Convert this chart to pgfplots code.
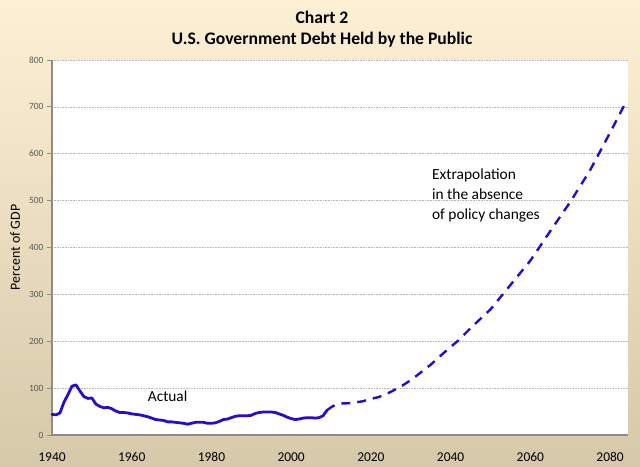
\documentclass[border=0pt]{standalone}
\usepackage{pgfplots}
\pgfplotsset{compat=1.18}
\usepackage{fontspec}
\setmainfont{Carlito}

\definecolor{debtblue}{RGB}{40,12,205}
\definecolor{bgtop}{RGB}{253,240,212}
\definecolor{bgbot}{RGB}{214,201,170}
\definecolor{axisgray}{RGB}{140,140,140}
\definecolor{ticktext}{RGB}{89,89,89}

\begin{document}
\begin{tikzpicture}[x=1bp,y=1bp]
  \shade[top color=bgtop, bottom color=bgbot] (0,0) rectangle (640,467);
  \useasboundingbox (0,0) rectangle (640,467);

  \node[font=\bfseries\fontsize{17.7}{21}\selectfont] at (322,450) {Chart 2};
  \node[font=\bfseries\fontsize{17.7}{21}\selectfont] at (322,427) {U.S. Government Debt Held by the Public};

  \begin{axis}[
      at={(52bp,32bp)}, anchor=south west,
      scale only axis,
      width=576bp, height=375bp,
      xmin=1940, xmax=2084.5,
      ymin=0, ymax=800,
      xtick={1940,1960,...,2080},
      ytick={0,100,...,800},
      axis lines=left,
      axis line style={-, axisgray, line width=1.4bp},
      axis background/.style={fill=white},
      ymajorgrids,
      grid style={gray!55, line width=0.6bp, dash pattern=on 1pt off 0.6pt},
      x tick style={draw=none},
      y tick style={axisgray, line width=0.8bp},
      tick align=outside,
      major tick length=5bp,
      /pgf/number format/assume math mode=true,
      /pgf/number format/1000 sep={},
      xticklabel style={font=\fontsize{13.5}{15}\selectfont, yshift=-9bp},
      yticklabel style={font=\fontsize{9.5}{11}\selectfont, text=ticktext},
      ylabel={Percent of GDP},
      ylabel style={at={(axis description cs:-0.064,0.5)}, anchor=center,
                    font=\fontsize{14}{16}\selectfont},
      clip=false,
    ]
    % actual
    \addplot[debtblue, line width=2.8bp, line join=round, line cap=round] coordinates {
      (1940,44) (1941,43) (1942,47) (1943,70) (1944,86) (1945,104) (1946,107)
      (1947,94) (1948,82) (1949,78) (1950,79) (1951,66) (1952,61) (1953,58)
      (1954,59) (1955,56) (1956,51) (1957,48) (1958,48) (1959,47) (1960,45)
      (1961,44) (1962,43) (1963,41) (1964,39) (1965,36) (1966,33) (1967,32)
      (1968,31) (1969,28) (1970,28) (1971,27) (1972,26) (1973,25) (1974,23)
      (1975,25) (1976,27) (1977,27) (1978,27) (1979,25) (1980,25) (1981,26)
      (1982,29) (1983,33) (1984,34) (1985,37) (1986,40) (1987,41) (1988,41)
      (1989,41) (1990,42) (1991,46) (1992,48) (1993,49) (1994,49) (1995,49)
      (1996,48) (1997,45) (1998,42) (1999,38) (2000,35) (2001,33) (2002,34)
      (2003,36) (2004,37) (2005,37) (2006,36) (2007,37) (2008,41) (2009,53)
    };
    % extrapolation
    \addplot[debtblue, line width=2.4bp, dash pattern=on 9bp off 7bp, line join=round] coordinates {
      (2009,53) (2010,59) (2011,64) (2012,67) (2015,68) (2018,72) (2020,77)
      (2022,81) (2025,92) (2028,106) (2030,117) (2032,130) (2035,150)
      (2038,173) (2040,188) (2042,202) (2045,228) (2050,268) (2055,320)
      (2060,372) (2065,435) (2070,497) (2075,565) (2080,645) (2084.2,714)
    };
    \node[anchor=center, font=\fontsize{15.4}{18}\selectfont] at (axis cs:1969,83) {Actual};
    \node[anchor=north west, align=left, inner sep=0pt,
          font=\fontsize{15.5}{20}\selectfont] at (axis cs:2035.3,569)
      {Extrapolation\\in the absence\\of policy changes};
  \end{axis}
\end{tikzpicture}
\end{document}
